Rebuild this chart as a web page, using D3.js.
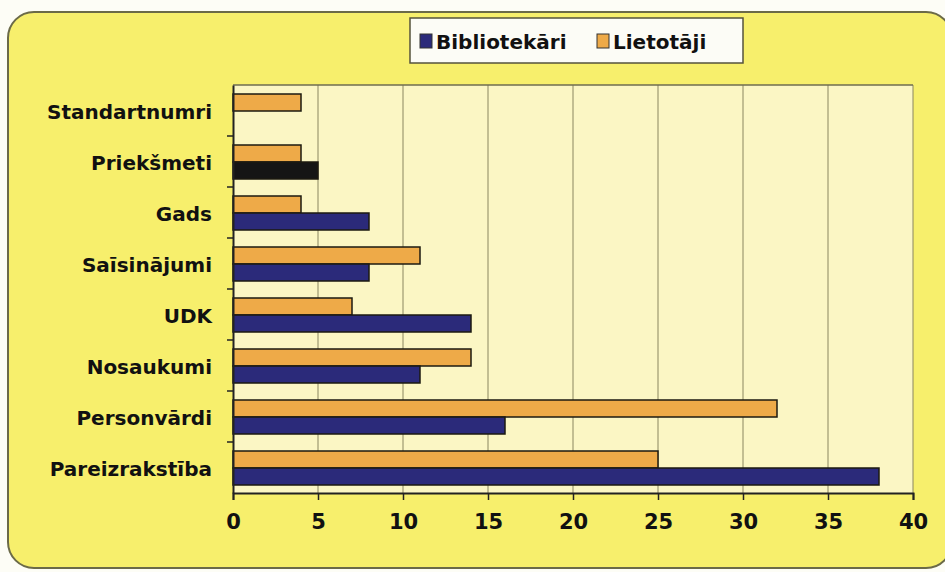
<!DOCTYPE html>
<html>
<head>
<meta charset="utf-8">
<title>Bibliotekāri / Lietotāji</title>
<script src="https://cdn.jsdelivr.net/npm/d3@7"></script>
<style>
  body { margin: 0; background: #fdfdf6; }
  text { font-family: "DejaVu Sans", sans-serif; font-weight: 700; fill: #111; }
</style>
</head>
<body>
<div id="chart"></div>
<script>
var categories = ["Standartnumri", "Priekšmeti", "Gads", "Saīsinājumi", "UDK", "Nosaukumi", "Personvārdi", "Pareizrakstība"];
var seriesNames = ["Bibliotekāri", "Lietotāji"];
var bibliotekari = [0, 5, 8, 8, 14, 11, 16, 38];
var lietotaji = [4, 4, 4, 11, 7, 14, 32, 25];
var xTicks = [0, 5, 10, 15, 20, 25, 30, 35, 40];

var width = 945, height = 572;
var colors = { "Bibliotekāri": "#2b2a7a", "Lietotāji": "#eeaa48" };

var svg = d3.select("#chart").append("svg")
  .attr("width", width)
  .attr("height", height);

// yellow card behind everything
svg.append("rect")
  .attr("x", 8).attr("y", 12)
  .attr("width", 944).attr("height", 556)
  .attr("rx", 26).attr("ry", 26)
  .attr("fill", "#f7ef6c")
  .attr("stroke", "#6b6a48")
  .attr("stroke-width", 2);

var plot = { left: 233, right: 913, top: 85, bottom: 493 };

var x = d3.scaleLinear().domain([0, 40]).range([plot.left, plot.right]);
var y = d3.scaleBand().domain(categories).range([plot.top, plot.bottom]);
// Lietotāji on top, Bibliotekāri below within each band
var inner = d3.scaleBand().domain(["Lietotāji", "Bibliotekāri"])
  .range([9, y.bandwidth() - 8]).paddingInner(0);

svg.append("rect")
  .attr("x", plot.left).attr("y", plot.top)
  .attr("width", plot.right - plot.left).attr("height", plot.bottom - plot.top)
  .attr("fill", "#fbf6c4");

// vertical gridlines
svg.append("g").selectAll("line").data(xTicks.slice(1)).enter().append("line")
  .attr("x1", function(d) { return x(d); })
  .attr("x2", function(d) { return x(d); })
  .attr("y1", plot.top).attr("y2", plot.bottom)
  .attr("stroke", "#8a8660").attr("stroke-width", 1);

svg.append("line")
  .attr("x1", plot.left).attr("x2", plot.right)
  .attr("y1", plot.top).attr("y2", plot.top)
  .attr("stroke", "#6e6c50").attr("stroke-width", 1.5);

// bars
var rows = categories.map(function(c, i) {
  return { cat: c, values: [
    { key: "Lietotāji", value: lietotaji[i] },
    { key: "Bibliotekāri", value: bibliotekari[i] }
  ]};
});

var groups = svg.append("g").selectAll("g").data(rows).enter().append("g")
  .attr("transform", function(d) { return "translate(0," + y(d.cat) + ")"; });

groups.selectAll("rect")
  .data(function(d) { return d.values.filter(function(v) { return v.value > 0; })
    .map(function(v) { v.cat = d.cat; return v; }); })
  .enter().append("rect")
  .attr("x", x(0))
  .attr("y", function(d) { return inner(d.key); })
  .attr("width", function(d) { return x(d.value) - x(0); })
  .attr("height", inner.bandwidth())
  .attr("fill", function(d) {
    // the scanned picture shows this one bar nearly black
    if (d.cat == "Priekšmeti" && d.key == "Bibliotekāri") return "#151515";
    return colors[d.key];
  })
  .attr("stroke", "#1c1a10")
  .attr("stroke-width", 1.5);

// axes
var xAxis = d3.axisBottom(x).tickValues(xTicks).tickSize(7).tickPadding(14);
var gx = svg.append("g").attr("transform", "translate(0," + plot.bottom + ")").call(xAxis);
gx.select(".domain").attr("stroke", "#222").attr("stroke-width", 2);
gx.selectAll(".tick line").attr("stroke", "#222").attr("stroke-width", 1.5);
gx.selectAll("text").style("font-size", "21px").attr("fill", "#111");

var yAxis = d3.axisLeft(y).tickSize(0).tickPadding(21);
var gy = svg.append("g").attr("transform", "translate(" + plot.left + ",0)").call(yAxis);
gy.select(".domain").attr("stroke", "#222").attr("stroke-width", 2);
gy.selectAll("text").style("font-size", "20px").attr("fill", "#111").attr("dy", "0.4em");

// small ticks between categories on the y axis
svg.append("g").selectAll("line").data(categories.slice(1)).enter().append("line")
  .attr("x1", plot.left - 6).attr("x2", plot.left)
  .attr("y1", function(d) { return y(d); })
  .attr("y2", function(d) { return y(d); })
  .attr("stroke", "#222").attr("stroke-width", 1.5);

// legend
var legend = svg.append("g").attr("transform", "translate(410,18)");
legend.append("rect")
  .attr("width", 333).attr("height", 45)
  .attr("fill", "#fcfcf6")
  .attr("stroke", "#55533c").attr("stroke-width", 1.5);

var items = [
  { name: seriesNames[0], x: 10, tx: 26 },
  { name: seriesNames[1], x: 187, tx: 203 }
];
var li = legend.selectAll("g.item").data(items).enter().append("g").attr("class", "item");
li.append("rect")
  .attr("x", function(d) { return d.x; }).attr("y", 16)
  .attr("width", 12).attr("height", 14)
  .attr("fill", function(d) { return colors[d.name]; })
  .attr("stroke", "#333").attr("stroke-width", 1);
li.append("text")
  .attr("x", function(d) { return d.tx; }).attr("y", 31)
  .style("font-size", "20px")
  .text(function(d) { return d.name; });
</script>
</body>
</html>
